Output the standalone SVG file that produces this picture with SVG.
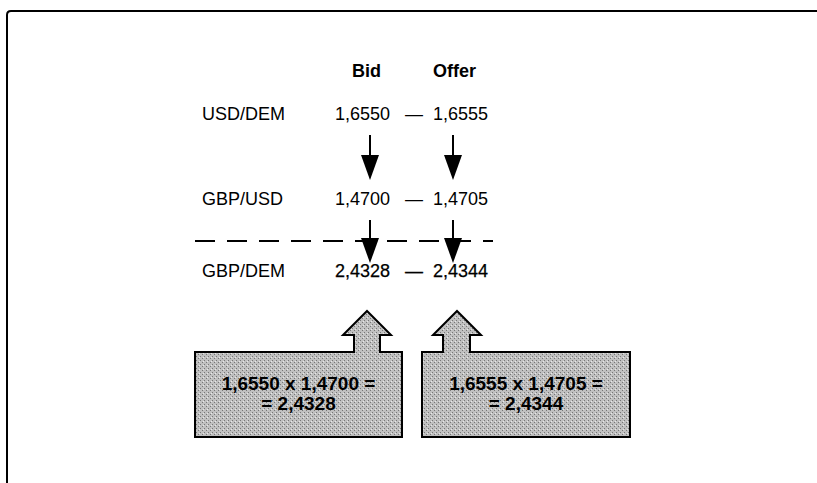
<svg xmlns="http://www.w3.org/2000/svg" width="817" height="483" viewBox="0 0 817 483">
<style>
text{font-family:"Liberation Sans",Arial,sans-serif;font-size:18px;fill:#000}
.hd{font-weight:bold}
.bx{font-weight:bold;text-anchor:middle;font-size:19px}
.shaft{stroke:#000;stroke-width:2;fill:none}
.dash{stroke:#000;stroke-width:2;stroke-dasharray:20 12;fill:none}
.callout{stroke:#000;stroke-width:2;fill:url(#halftone);stroke-linejoin:miter}
</style>
<defs>
<pattern id="halftone" width="4" height="4" patternUnits="userSpaceOnUse">
<rect width="4" height="4" fill="#c0c0c0"/>
<rect x="0" y="0" width="1" height="1" fill="#777"/>
<rect x="2" y="2" width="1" height="1" fill="#777"/>
<rect x="3" y="1" width="1" height="1" fill="#e8e8e8"/>
</pattern>
<marker id="head" viewBox="0 0 25 18" refX="0" refY="9" markerWidth="25" markerHeight="18" markerUnits="userSpaceOnUse" orient="auto">
<path d="M0,0 L25,9 L0,18 Z" fill="#000"/>
</marker>
</defs>
<path d="M7,483 V15 Q7,11 11,11 H817" fill="none" stroke="#000" stroke-width="2"/>
<g id="headers">
<text class="hd" x="352" y="77">Bid</text>
<text class="hd" x="433" y="77">Offer</text>
</g>
<g id="usd-dem">
<text x="202" y="120">USD/DEM</text>
<text x="335" y="120">1,6550<tspan x="405">—</tspan><tspan x="433">1,6555</tspan></text>
</g>
<g id="gbp-usd">
<text x="202" y="205">GBP/USD</text>
<text x="335" y="205">1,4700<tspan x="405">—</tspan><tspan x="433">1,4705</tspan></text>
</g>
<g id="gbp-dem">
<text x="202" y="277">GBP/DEM</text>
<text x="335" y="277" stroke="#000" stroke-width="0.25">2,4328<tspan x="405">—</tspan><tspan x="433">2,4344</tspan></text>
</g>
<g id="connectors">
<line class="shaft" x1="370" y1="135" x2="370" y2="155" marker-end="url(#head)"/>
<line class="shaft" x1="453" y1="135" x2="453" y2="155" marker-end="url(#head)"/>
<line class="shaft" x1="370" y1="220" x2="370" y2="238" marker-end="url(#head)"/>
<line class="shaft" x1="453" y1="220" x2="453" y2="238" marker-end="url(#head)"/>
<line class="dash" x1="195" y1="241" x2="493" y2="241"/>
</g>
<g id="bid-calc">
<path class="callout" d="M195,352 H354 V335 H343 L367,311 L391,335 H380 V352 H402 V437 H195 Z"/>
<text class="bx" x="298.5" y="390">1,6550 x 1,4700 =</text>
<text class="bx" x="298.5" y="410">= 2,4328</text>
</g>
<g id="offer-calc">
<path class="callout" d="M422,352 H443 V335 H433 L457,311 L481,335 H470 V352 H630 V437 H422 Z"/>
<text class="bx" x="526" y="390">1,6555 x 1,4705 =</text>
<text class="bx" x="526" y="410">= 2,4344</text>
</g>
</svg>
